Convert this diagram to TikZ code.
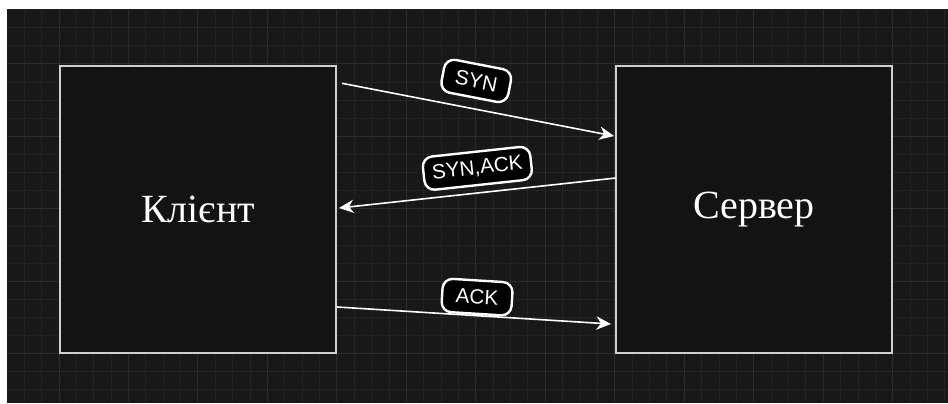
\documentclass[tikz,border=0pt]{standalone}
\usepackage{fontspec}
\setmainfont{Liberation Serif}
\newfontfamily\labfont{Liberation Sans}
\usetikzlibrary{arrows.meta}
\definecolor{bgdark}{HTML}{181818}
\definecolor{gridminor}{HTML}{232323}
\definecolor{gridmajor}{HTML}{2C2C2C}
\definecolor{boxfill}{HTML}{131313}
\definecolor{boxline}{HTML}{CFCFCF}
\tikzset{
  bigbox/.style={draw=boxline, line width=1.5pt, fill=boxfill, minimum width=207pt, minimum height=215.25pt, inner sep=0pt, text=white, font=\fontsize{30}{36}\selectfont},
  msg/.style={draw=white, line width=1.2pt, -{Stealth[length=11pt,width=10pt,inset=3.5pt]}},
  lab/.style={draw=white, line width=1.8pt, fill=black, rounded corners=7.5pt, text=white, font=\labfont\fontsize{15.5}{18}\selectfont, minimum height=25pt, inner sep=0pt, sloped},
  minorline/.style={draw=gridminor, line width=0.75pt},
  majorline/.style={draw=gridmajor, line width=0.75pt}
}
\begin{document}
\begin{tikzpicture}[x=0.75pt,y=-0.75pt]
\useasboundingbox (0,0) rectangle (948,403);
\fill[white] (0,0) rectangle (948,403);
\fill[bgdark] (7,10) rectangle (948,403);
\begin{scope}
\clip (7,10) rectangle (948,403);
\foreach \i in {-3,...,51} { \draw[minorline] ({59+\i*17.37},10) -- ({59+\i*17.37},403); }
\foreach \j in {-3,...,19} { \draw[minorline] (7,{64+\j*18.1}) -- (948,{64+\j*18.1}); }
\foreach \i in {-4,0,...,48} { \draw[majorline] ({59+\i*17.37},10) -- ({59+\i*17.37},403); }
\foreach \j in {-4,0,...,16} { \draw[majorline] (7,{64+\j*18.1}) -- (948,{64+\j*18.1}); }
\end{scope}

\node[bigbox] (client) at (198,209.5) {Клієнт};
\node[bigbox] (server) at (754,209.5) {Сервер};

\draw[msg] ([shift={(5,18.3)}]client.north east) -- node[lab, above=7.5pt, pos=0.474, minimum width=51pt] (syn) {SYN} ([shift={(-1,71)}]server.north west);
\draw[msg] ([shift={(1,113)}]server.north west) -- node[lab, above=5pt, pos=0.491, minimum width=81pt] (synack) {SYN,ACK} ([shift={(2,143)}]client.north east);
\draw[msg] ([shift={(0,242)}]client.north east) -- node[lab, above=0.5pt, pos=0.507, minimum width=52.5pt] (ack) {ACK} ([shift={(-4,259)}]server.north west);
\end{tikzpicture}
\end{document}
